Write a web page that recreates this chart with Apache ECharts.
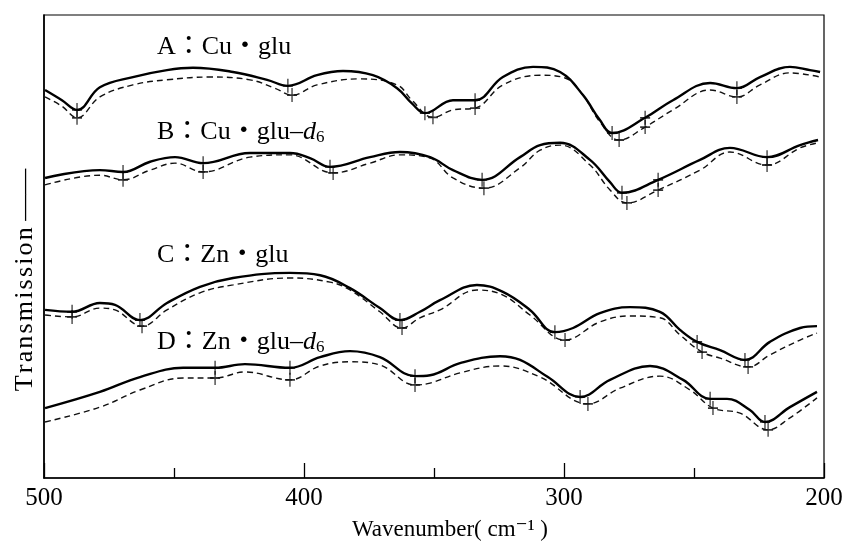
<!DOCTYPE html>
<html>
<head>
  <meta charset="utf-8">
  <title>IR spectra</title>
  <style>
    body { margin: 0; background: #fff; }
    #chart { width: 847px; height: 550px; }
  </style>
  <script src="https://cdn.jsdelivr.net/npm/echarts@6/dist/echarts.min.js"></script>
</head>
<body>
  <div id="chart"></div>
  <script>
    // wavenumber (cm-1), transmission (arbitrary, offset per trace)
    var cuGlu = [[499.6,83.8],[493.1,81.6],[487.3,79.5],[478.5,84.4],[465.8,86.6],[452.7,88.1],[442.7,88.6],[427.3,87.7],[414.2,86.0],[406.2,84.7],[395.0,87.0],[385.0,87.9],[373.5,87.0],[364.2,84.2],[358.5,80.9],[353.5,78.8],[342.7,81.6],[334.2,81.6],[323.5,86.6],[311.9,88.8],[301.5,87.7],[292.7,82.7],[286.2,77.3],[281.5,74.5],[268.8,77.8],[258.1,81.6],[243.8,85.3],[233.5,84.2],[224.6,86.6],[213.1,88.8],[205.4,88.1],[201.5,87.7]];
    var cuGluDash = [[499.6,82.3],[493.1,80.3],[487.3,77.8],[478.5,82.3],[465.8,84.9],[452.7,86.0],[436.2,86.6],[420.8,86.0],[411.2,84.2],[404.6,82.7],[395.0,84.9],[378.5,86.2],[364.2,84.9],[358.5,81.6],[350.4,77.9],[342.7,79.5],[334.2,79.9],[323.5,84.9],[309.2,87.0],[299.6,86.4],[292.7,82.7],[286.2,76.9],[278.8,73.0],[268.8,75.8],[258.1,79.5],[243.8,83.8],[233.5,82.3],[224.6,84.9],[213.1,87.5],[201.5,86.6]];
    var cuGluD6 = [[499.6,64.8],[478.5,66.5],[469.6,66.1],[459.2,68.3],[449.6,69.3],[438.8,68.0],[420.8,70.2],[405.4,70.2],[397.7,69.1],[390.0,67.2],[374.6,69.3],[363.1,70.4],[351.5,69.3],[342.7,66.5],[331.5,64.4],[316.9,69.3],[309.2,71.9],[301.5,72.4],[290.0,68.7],[282.3,63.9],[277.7,61.6],[263.8,64.4],[247.7,68.7],[236.2,71.3],[221.9,69.3],[209.2,71.9],[202.3,73.0]];
    var cuGluD6Dash = [[499.6,63.3],[478.5,65.4],[469.6,64.4],[459.2,66.5],[449.6,68.0],[438.8,66.1],[420.8,69.3],[405.4,69.8],[388.8,65.9],[374.6,68.0],[363.1,69.8],[351.5,69.1],[342.7,64.8],[330.8,62.6],[316.9,67.0],[309.2,70.8],[301.5,71.9],[290.0,67.6],[282.3,62.2],[275.8,59.4],[263.8,62.2],[247.7,66.5],[236.2,70.4],[221.9,67.6],[209.2,71.3],[202.3,72.4]];
    var znGlu = [[499.6,36.3],[489.2,35.9],[478.5,37.8],[472.7,37.4],[463.1,34.1],[452.7,37.8],[440.0,41.3],[427.3,43.2],[405.4,44.3],[393.8,43.8],[382.3,41.0],[370.8,36.7],[363.1,34.1],[355.4,35.9],[347.7,38.4],[333.5,41.7],[323.5,40.2],[313.1,36.3],[303.5,31.5],[296.5,32.4],[286.2,35.6],[274.6,36.9],[263.1,35.9],[255.4,32.0],[248.8,29.4],[240.0,27.6],[230.4,25.5],[220.8,29.4],[209.2,32.4],[202.7,32.8]];
    var znGluDash = [[499.6,35.2],[489.2,34.8],[478.5,36.7],[472.7,36.3],[462.3,32.8],[452.7,36.3],[440.0,40.0],[427.3,41.7],[405.4,43.2],[390.0,42.3],[382.3,40.6],[370.8,35.9],[362.3,32.4],[355.4,34.6],[347.7,36.3],[333.5,40.6],[323.5,39.5],[313.1,35.2],[299.6,29.8],[286.2,33.7],[274.6,35.0],[263.1,34.6],[255.4,30.9],[246.9,27.2],[240.0,25.9],[229.2,24.0],[220.8,26.6],[209.2,29.8],[202.7,31.3]];
    var znGluD6 = [[499.6,15.1],[478.5,18.6],[463.1,21.8],[446.5,23.8],[434.2,23.8],[422.7,24.6],[405.4,23.8],[393.8,26.1],[382.3,27.4],[370.8,26.1],[357.3,22.0],[351.5,22.2],[340.0,24.8],[324.6,26.3],[316.9,25.5],[306.2,21.8],[293.8,17.5],[282.3,21.2],[266.9,24.2],[254.2,21.2],[243.8,17.1],[237.3,17.1],[228.5,14.7],[222.7,12.1],[213.1,15.3],[202.7,18.6]];
    var znGluD6Dash = [[499.6,12.1],[478.5,15.3],[463.1,19.0],[446.5,21.6],[434.2,21.6],[422.7,22.9],[405.4,21.2],[393.8,24.2],[382.3,25.1],[370.8,24.4],[357.3,20.1],[351.5,20.5],[340.0,22.7],[324.6,24.2],[309.2,21.8],[290.8,16.0],[278.5,19.4],[263.1,22.0],[251.5,19.0],[242.7,15.1],[232.3,14.0],[221.5,10.4],[213.1,13.0],[202.7,17.3]];

    // band positions marked with "+" on each trace
    var cuGluPeaks = [487.3, 406.2, 353.5, 334.2, 281.5, 268.8, 233.5];
    var cuGluDashPeaks = [487.3, 404.6, 350.4, 334.2, 278.8, 268.8, 233.5];
    var cuGluD6Peaks = [469.6, 438.8, 390.0, 331.5, 277.7, 263.8, 221.9];
    var cuGluD6DashPeaks = [469.6, 438.8, 388.8, 330.8, 275.8, 263.8, 221.9];
    var znGluPeaks = [489.2, 463.1, 363.1, 303.5, 248.8, 230.4];
    var znGluDashPeaks = [489.2, 462.3, 362.3, 299.6, 246.9, 229.2];
    var znGluD6Peaks = [434.2, 405.4, 357.3, 293.8, 243.8, 222.7];
    var znGluD6DashPeaks = [434.2, 405.4, 357.3, 290.8, 242.7, 221.5];

    var xTicks = [500, 400, 300, 200];

    var serif = '"Liberation Serif", "DejaVu Serif", "Noto Sans CJK JP", serif';

    function pick(curve, peaks) {
      return peaks.map(function (w) {
        return curve.find(function (p) { return p[0] === w; });
      });
    }

    function trace(data, dashed) {
      return {
        type: 'line',
        data: data,
        smooth: 0.4,
        symbol: 'none',
        silent: true,
        lineStyle: dashed
          ? { color: '#111', width: 1.4, type: [6, 4] }
          : { color: '#000', width: 2.4 }
      };
    }

    function marks(data) {
      return {
        type: 'scatter',
        data: data,
        symbol: 'path://M5,0L5,14M0,7L10,7',
        symbolSize: [10, 14],
        silent: true,
        itemStyle: { color: 'rgba(0,0,0,0)', borderColor: '#000', borderWidth: 1.5 }
      };
    }

    var pairs = [
      [cuGlu, cuGluPeaks, cuGluDash, cuGluDashPeaks],
      [cuGluD6, cuGluD6Peaks, cuGluD6Dash, cuGluD6DashPeaks],
      [znGlu, znGluPeaks, znGluDash, znGluDashPeaks],
      [znGluD6, znGluD6Peaks, znGluD6Dash, znGluD6DashPeaks]
    ];
    var series = [];
    pairs.forEach(function (p) {
      series.push(trace(p[2], true));
      series.push(trace(p[0], false));
      series.push(marks(pick(p[2], p[3])));
      series.push(marks(pick(p[0], p[1])));
    });

    var richLab = {
      t: { fontFamily: serif, fontSize: 26, color: '#000' },
      i: { fontFamily: serif, fontSize: 26, fontStyle: 'italic', color: '#000' },
      s: { fontFamily: serif, fontSize: 17, color: '#000', padding: [12, 0, 0, 0] }
    };

    var chart = echarts.init(document.getElementById('chart'));
    chart.setOption({
      animation: false,
      backgroundColor: '#fff',
      grid: { left: 44, right: 23, top: 15, bottom: 72, show: true, borderColor: '#000', borderWidth: 1.2 },
      xAxis: {
        type: 'value',
        min: 200,
        max: 500,
        interval: 100,
        inverse: true,
        axisLine: { lineStyle: { color: '#000', width: 1.6 } },
        axisTick: { inside: true, length: 15, lineStyle: { color: '#000', width: 1.3 } },
        minorTick: { show: true, splitNumber: 2, length: 10, lineStyle: { color: '#000', width: 1.3 } },
        splitLine: { show: false },
        axisLabel: {
          margin: 8,
          fontFamily: serif,
          fontSize: 25,
          color: '#000',
          formatter: function (v) { return xTicks.indexOf(v) >= 0 ? String(v) : ''; }
        },
        name: 'Wavenumber( cm⁻¹ )',
        nameLocation: 'middle',
        nameGap: 40,
        nameTextStyle: { fontFamily: serif, fontSize: 23, color: '#000', padding: [0, 0, 0, 32] }
      },
      yAxis: {
        type: 'value',
        min: 0,
        max: 100,
        axisLine: { show: true, lineStyle: { color: '#000', width: 1.6 } },
        axisTick: { show: false },
        axisLabel: { show: false },
        splitLine: { show: false }
      },
      graphic: [
        { type: 'text', left: 157, top: 34, style: { text: '{t|A：Cu・glu}', rich: richLab } },
        { type: 'text', left: 157, top: 119, style: { text: '{t|B：Cu・glu–}{i|d}{s|6}', rich: richLab } },
        { type: 'text', left: 157, top: 242, style: { text: '{t|C：Zn・glu}', rich: richLab } },
        { type: 'text', left: 157, top: 329, style: { text: '{t|D：Zn・glu–}{i|d}{s|6}', rich: richLab } },
        {
          type: 'text', x: 25, y: 280, rotation: Math.PI / 2,
          style: { text: 'T\u200ar\u200aa\u200an\u200as\u200am\u200ai\u200as\u200as\u200ai\u200ao\u200an ——', font: '26px ' + serif, fill: '#000', align: 'center', verticalAlign: 'middle' }
        }
      ],
      series: series
    });
  </script>
</body>
</html>
